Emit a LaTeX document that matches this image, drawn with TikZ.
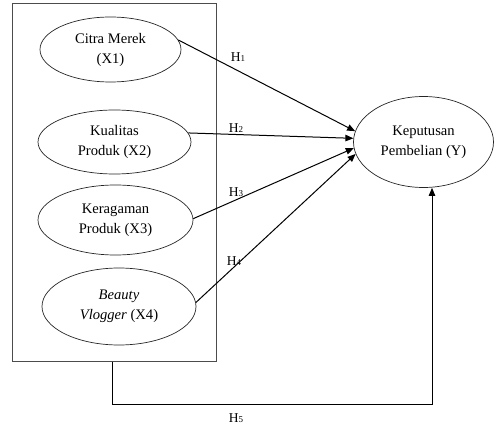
\documentclass[tikz,border=0pt]{standalone}
\usepackage{fontspec}
\setmainfont{Liberation Serif}
\usetikzlibrary{shapes.geometric,arrows.meta}
\begin{document}
\begin{tikzpicture}[x=1pt,y=-1pt,
  var/.style={draw=black!85, line width=0.7pt, ellipse, inner sep=0pt, align=center,
    font=\fontsize{14.6}{20}\selectfont},
  link/.style={draw=black, line width=1pt, -{Triangle[length=8pt,width=6.5pt]}},
  hlab/.style={font=\fontsize{13.5}{14}\selectfont, inner sep=0pt}]
\useasboundingbox (0,0) rectangle (496,425);
\node[draw=black!70, line width=1pt, minimum width=204pt, minimum height=357pt, inner sep=0pt] (box) at (114,182.5) {};
\node[var, minimum width=141pt, minimum height=65pt] (e1) at (110.5,49.5) {Citra Merek\\(X1)};
\node[var, minimum width=153pt, minimum height=64pt] (e2) at (114.5,142) {Kualitas\\Produk (X2)};
\node[var, minimum width=155pt, minimum height=70pt] (e3) at (115.5,220) {Keragaman\\Produk (X3)};
\node[var, minimum width=154pt, minimum height=77pt] (e4) at (119,306.5) {\textit{Beauty}\\\textit{Vlogger} (X4)};
\node[var, minimum width=140pt, minimum height=91pt] (y) at (423.5,142) {Keputusan\\Pembelian (Y)};
\draw[link] (e1.8) -- (y.171);
\draw[link] (e2.7) -- (y.177);
\draw[link] (e3.1) -- (y.185);
\draw[link] (e4.3) -- (y.190);
\coordinate (c1) at (112,404);
\coordinate (c2) at (432,404);
\draw[link] (box.south -| c1) -- (c1) -- (c2) -- (c2 |- y.south);
\node[hlab] (h1) at (238,57) {H{\fontsize{9}{9}\selectfont 1}};
\node[hlab] (h2) at (236,128) {H{\fontsize{9}{9}\selectfont 2}};
\node[hlab] (h3) at (236,192) {H{\fontsize{9}{9}\selectfont 3}};
\node[hlab] (h4) at (234,261) {H{\fontsize{9}{9}\selectfont 4}};
\node[hlab] (h5) at (236,418) {H{\fontsize{9}{9}\selectfont 5}};
\end{tikzpicture}
\end{document}
